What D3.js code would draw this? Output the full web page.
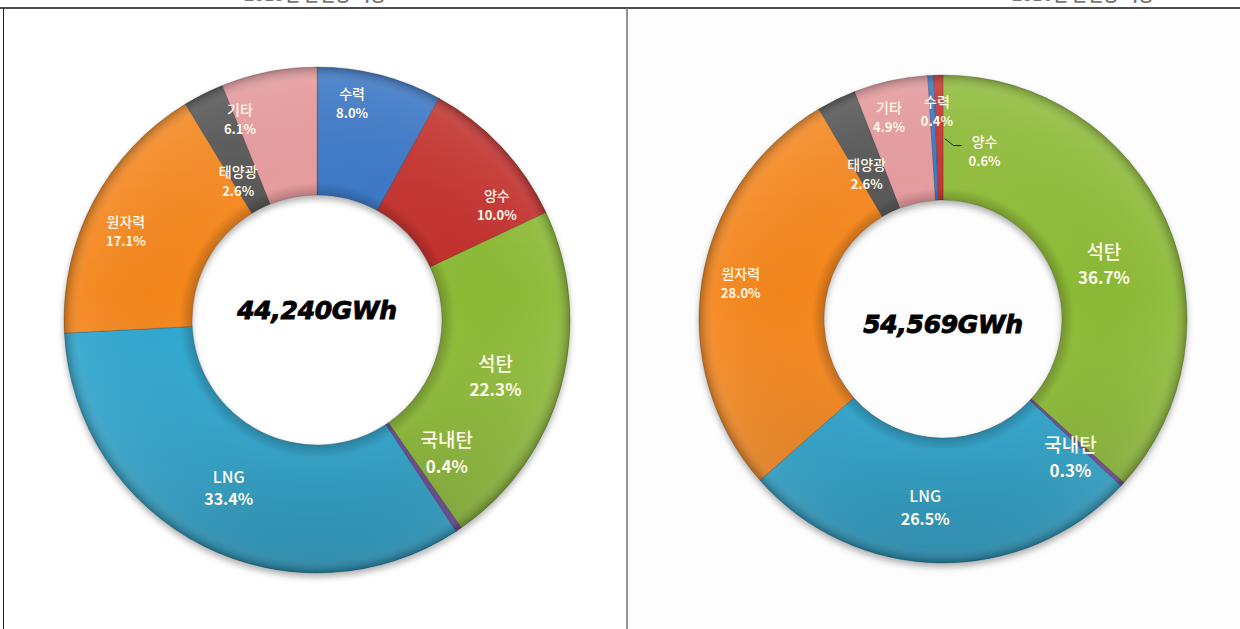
<!DOCTYPE html>
<html><head><meta charset="utf-8">
<script src="https://cdn.jsdelivr.net/npm/d3@7"></script>
<style>body{margin:0;background:#fff}svg{display:block}</style></head>
<body>
<svg id="c" width="1240" height="629"></svg>
<script>
// ---- data ----
const categories1 = ["수력","양수","석탄","국내탄","LNG","원자력","태양광","기타"];
const values1 = [8.0, 10.0, 22.3, 0.4, 33.4, 17.1, 2.6, 6.1];
const total1 = "44,240GWh";
const categories2 = ["석탄","국내탄","LNG","원자력","태양광","기타","수력","양수"];
const values2 = [36.7, 0.3, 26.5, 28.0, 2.6, 4.9, 0.4, 0.6];
const total2 = "54,569GWh";
const titles = ["2015년 발전량 비중", "2016년 발전량 비중"];

// ---- styles / layout ----
const colors = {"수력":"#3573c4","양수":"#c22e2a","석탄":"#8cba36","국내탄":"#6b4a95",
  "LNG":"#2fa6cf","원자력":"#f4861f","태양광":"#515151","기타":"#e4979a"};
const bigLabels = {"석탄":[19,17],"국내탄":[19,17],"LNG":[16,16]};
const nudges1 = {"수력":[-12,-36],"양수":[42,12],"석탄":[-4,4],"국내탄":[24,-27],"LNG":[-3,-4],
  "원자력":[-24,-3],"태양광":[6,28],"기타":[-41,-18]};
const nudges2 = {"석탄":[-5,16],"국내탄":[-6,12],"LNG":[-15,4],"원자력":[-23,-10],
  "태양광":[3,16],"기타":[-15,-27],"수력":[3,-29],"양수":[45,11]};
const charts = [
  {cats:categories1, vals:values1, total:total1, cx:317, cy:320, r:253, rIn:125, nudges:nudges1, tx:315, title:titles[0], leader:null},
  {cats:categories2, vals:values2, total:total2, cx:943, cy:319, r:244, rIn:119, nudges:nudges2, tx:1083, title:titles[1], leader:"양수"}
];

const svg = d3.select("#c");
const defs = svg.append("defs");
const f = defs.append("filter").attr("id","sh").attr("x","-10%").attr("y","-10%").attr("width","120%").attr("height","125%");
f.append("feDropShadow").attr("dx",0).attr("dy",4).attr("stdDeviation",3).attr("flood-color","#000").attr("flood-opacity",0.3);

// background / table
svg.append("rect").attr("x",628).attr("y",8).attr("width",612).attr("height",621).attr("fill","#fdfdfd");
svg.append("line").attr("x1",0).attr("x2",1240).attr("y1",8).attr("y2",8).attr("stroke","#111").attr("stroke-width",1.6);
svg.append("line").attr("x1",3.5).attr("x2",3.5).attr("y1",8).attr("y2",629).attr("stroke","#222").attr("stroke-width",1);
svg.append("line").attr("x1",627).attr("x2",627).attr("y1",8).attr("y2",629).attr("stroke","#777").attr("stroke-width",1.6);

charts.forEach((c, ci) => {
  // title, clipped at the top edge as in the reference
  svg.append("text").attr("x",c.tx).attr("y",1).attr("text-anchor","middle")
    .attr("font-family","'Noto Sans CJK KR'").attr("font-weight",700).attr("font-size",17)
    .attr("fill","#777").text(c.title);

  const data = c.cats.map((k,i)=>({k, v:c.vals[i]}));
  const pie = d3.pie().sort(null).value(d=>d.v).startAngle(0).endAngle(2*Math.PI);
  const arcs = pie(data);
  const arc = d3.arc().innerRadius(c.rIn).outerRadius(c.r);
  const g = svg.append("g").attr("transform",`translate(${c.cx},${c.cy})`);

  const lg = defs.append("linearGradient").attr("id","lg"+ci).attr("gradientUnits","userSpaceOnUse")
    .attr("x1",0).attr("y1",-c.r).attr("x2",0).attr("y2",c.r);
  lg.append("stop").attr("offset",0).attr("stop-color","#fff").attr("stop-opacity",0.1);
  lg.append("stop").attr("offset",0.45).attr("stop-color","#fff").attr("stop-opacity",0);
  lg.append("stop").attr("offset",1).attr("stop-color","#000").attr("stop-opacity",0.2);
  const rg = defs.append("radialGradient").attr("id","rg"+ci).attr("gradientUnits","userSpaceOnUse")
    .attr("cx",0).attr("cy",0).attr("r",c.r);
  const k0 = c.rIn/c.r;
  rg.append("stop").attr("offset",k0).attr("stop-color","#000").attr("stop-opacity",0.2);
  rg.append("stop").attr("offset",k0+0.05).attr("stop-color","#000").attr("stop-opacity",0);
  rg.append("stop").attr("offset",0.94).attr("stop-color","#fff").attr("stop-opacity",0.05);
  rg.append("stop").attr("offset",1).attr("stop-color","#000").attr("stop-opacity",0.25);

  const sg = g.append("g").attr("filter","url(#sh)");
  sg.selectAll("path.s").data(arcs).join("path").attr("class","s")
    .attr("d",arc).attr("fill",d=>colors[d.data.k])
    .attr("stroke","rgba(0,0,0,0.25)").attr("stroke-width",0.8);
  g.selectAll("path.o1").data(arcs).join("path").attr("class","o1")
    .attr("d",arc).attr("fill","url(#lg"+ci+")");
  g.selectAll("path.o2").data(arcs).join("path").attr("class","o2")
    .attr("d",arc).attr("fill","url(#rg"+ci+")");

  const mid = d3.arc().innerRadius((c.r+c.rIn)/2).outerRadius((c.r+c.rIn)/2);
  arcs.forEach(a => {
    const [x0,y0] = mid.centroid(a);
    const n = c.nudges[a.data.k] || [0,0];
    const x = x0+n[0], y = y0+n[1];
    const fs = bigLabels[a.data.k] || [14,13];
    const gap = fs[0]*0.95;
    const t = g.append("text").attr("text-anchor","middle")
      .attr("font-family","'Noto Sans CJK KR','Noto Sans'").attr("font-weight",700)
      .attr("fill","#fff9ea");
    t.append("tspan").attr("x",x).attr("y",y-gap*0.5+fs[0]*0.35).attr("font-size",fs[0]).attr("font-weight",500).text(a.data.k);
    t.append("tspan").attr("x",x).attr("y",y+gap*0.95+fs[1]*0.35).attr("font-size",fs[1]).text(a.data.v.toFixed(1)+"%");
    if (c.leader === a.data.k) {
      const lx = x - 23, ly = y - 3;
      g.append("path").attr("d",`M${x0+5},${y0+1}L${lx-8},${ly}L${lx},${ly}`)
        .attr("fill","none").attr("stroke","#222").attr("stroke-width",1);
    }
  });

  g.append("text").attr("text-anchor","middle").attr("x",0).attr("y",ci===0? -1 : 14)
    .attr("font-family","'DejaVu Sans','Liberation Sans'").attr("font-weight",700).attr("font-style","italic")
    .attr("font-size",25).attr("fill","#000").attr("stroke","#000").attr("stroke-width",0.9)
    .attr("letter-spacing",-0.3).text(c.total);
});
</script>
</body></html>
